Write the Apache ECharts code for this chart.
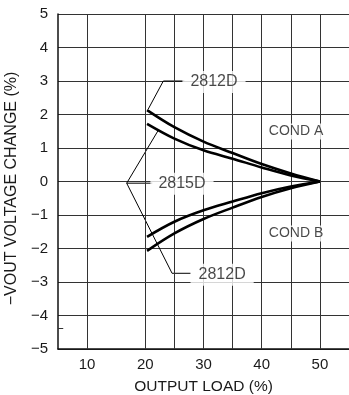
<!DOCTYPE html>
<html>
<head>
<meta charset="utf-8">
<script src="https://cdn.jsdelivr.net/npm/echarts@6/dist/echarts.min.js"></script>
<style>
  html, body { margin: 0; padding: 0; background: #fff; }
  #chart { width: 349px; height: 395px; }
</style>
</head>
<body>
<div id="chart"></div>
<script>
// output load (%) sample points
var loadX = [20.3, 25, 30, 35, 40, 45, 50];
// -Vout change (%) per model / condition
var d2812A = [2.13, 1.62, 1.19, 0.85, 0.52, 0.24, 0];
var d2815A = [1.72, 1.28, 0.93, 0.68, 0.42, 0.18, 0];
var d2815B = [-1.65, -1.20, -0.86, -0.60, -0.35, -0.15, 0];
var d2812B = [-2.07, -1.55, -1.12, -0.78, -0.46, -0.20, 0];

var xGridAt = [10, 20, 25, 30, 35, 40, 45, 50];
var xTickLabels = [10, 20, 30, 40, 50];

// callout leader paths, in data units
var leaderTop = [[20.5, 2.16], [23.1, 3.0], [26.7, 3.0]];
var leaderMid = [[22.2, 1.52], [16.8, -0.05], [21.2, -0.05]];
var leaderLow = [[16.8, -0.05], [24.6, -2.74], [27.8, -2.74]];

var calloutNames = ['2812D', '2815D', '2812D'];
var calloutAt = [[31.8, 2.97], [26.3, -0.07], [33.2, -2.78]];
var condNames = ['COND A', 'COND B'];
var condAt = [[45.9, 1.49], [45.9, -1.55]];

function pairs(xs, ys) {
  return xs.map(function (x, i) { return [x, ys[i]]; });
}

var font = '"Liberation Sans", Arial, sans-serif';
var ink = '#1a1a1a';

var curveStyle = { color: '#000', width: 2.6 };
function curve(name, ys) {
  return {
    name: name, type: 'line', data: pairs(loadX, ys), smooth: 0.35,
    showSymbol: false, lineStyle: curveStyle, z: 5, silent: true
  };
}
function leader(path) {
  return {
    type: 'line', data: path, showSymbol: false, silent: true, z: 4,
    lineStyle: { color: '#000', width: 1 }
  };
}

var chart = echarts.init(document.getElementById('chart'));
chart.setOption({
  animation: false,
  backgroundColor: '#fff',
  grid: { left: 58, top: 14, right: 0, bottom: 46, outerBoundsMode: 'none', containLabel: false },
  xAxis: {
    type: 'value', min: 5, max: 55, interval: 5,
    name: 'OUTPUT LOAD (%)', nameLocation: 'middle', nameGap: 30,
    nameTextStyle: { fontFamily: font, fontSize: 15.5, color: ink },
    axisLine: { show: true, onZero: false, lineStyle: { color: '#111', width: 1.5 } },
    axisTick: { show: false },
    splitLine: { show: false },
    axisLabel: {
      fontFamily: font, fontSize: 15, color: ink, margin: 8,
      formatter: function (v) { return xTickLabels.indexOf(v) >= 0 ? String(v) : ''; }
    }
  },
  yAxis: {
    type: 'value', min: -5, max: 5, interval: 1,
    name: '\u2212VOUT VOLTAGE CHANGE (%)', nameLocation: 'middle', nameGap: 38,
    nameTextStyle: { fontFamily: font, fontSize: 16, color: ink, padding: [0, 14, 0, 0] },
    axisLine: { show: true, lineStyle: { color: '#111', width: 1.5 } },
    axisTick: { show: false },
    splitLine: { show: true, lineStyle: { color: '#333', width: 1 } },
    axisLabel: {
      fontFamily: font, fontSize: 15, color: ink, margin: 10,
      formatter: function (v) { return String(v).replace('-', '\u2212'); }
    }
  },
  series: [
    {
      // vertical grid lines (15 has none in the original)
      type: 'line', data: [], silent: true, z: 1,
      markLine: {
        silent: true, symbol: 'none', label: { show: false },
        lineStyle: { color: '#333', width: 1, type: 'solid' },
        data: xGridAt.map(function (v) { return { xAxis: v }; }).concat([
          [{ coord: [5, -4.37] }, { coord: [5.9, -4.37] }]
        ])
      }
    },
    curve('2812D A', d2812A),
    curve('2815D A', d2815A),
    curve('2815D B', d2815B),
    curve('2812D B', d2812B),
    leader(leaderTop),
    leader(leaderMid),
    leader(leaderLow),
    {
      type: 'scatter', symbolSize: 0, silent: true, z: 6,
      data: calloutNames.map(function (n, i) { return { name: n, value: calloutAt[i] }; }),
      label: {
        show: true, position: 'inside', formatter: '{b}',
        fontFamily: font, fontSize: 16, color: ink,
        backgroundColor: '#fff', padding: [3, 8]
      }
    },
    {
      type: 'scatter', symbolSize: 0, silent: true, z: 6,
      data: condNames.map(function (n, i) { return { name: n, value: condAt[i] }; }),
      label: {
        show: true, position: 'inside', formatter: '{b}',
        fontFamily: font, fontSize: 14, color: ink,
        backgroundColor: '#fff', padding: [1, 1]
      }
    }
  ]
});
</script>
</body>
</html>
